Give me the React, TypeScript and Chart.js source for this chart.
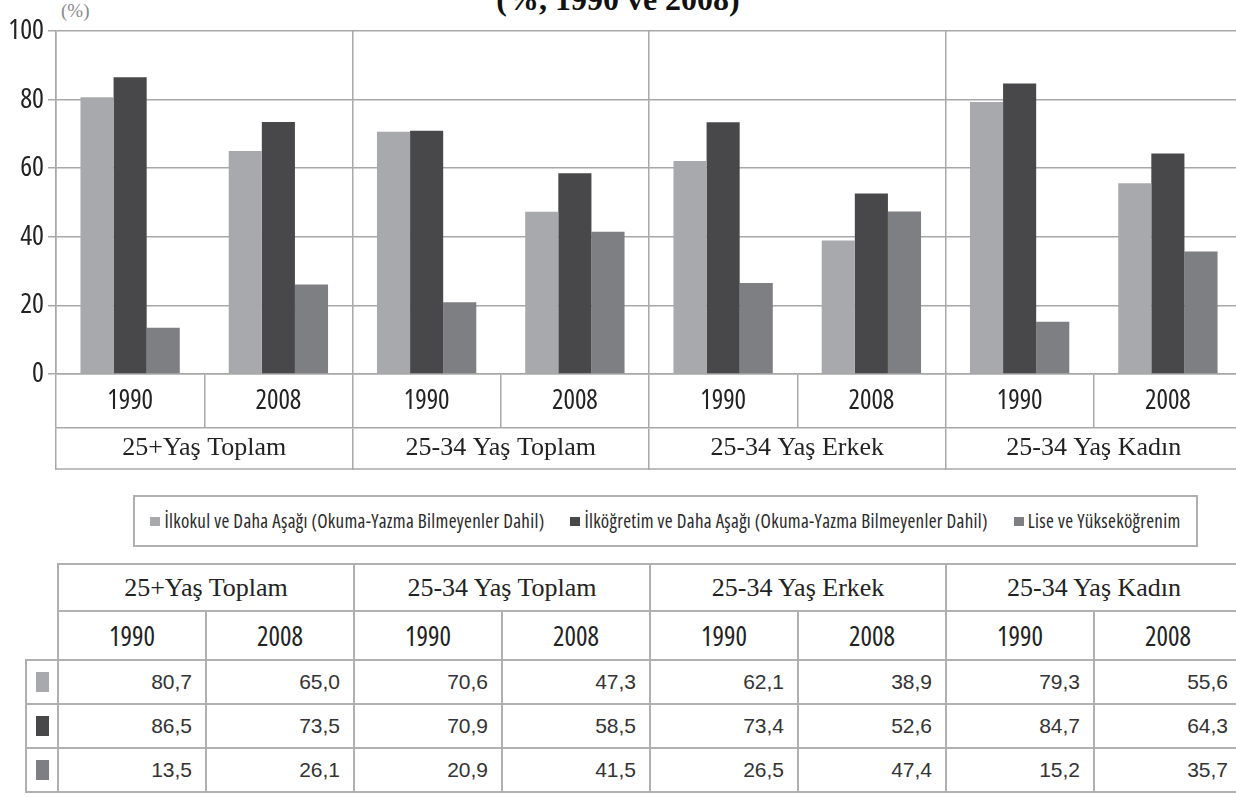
import React, { useEffect, useRef } from "react";
import { Chart, registerables } from "chart.js";

Chart.register(...registerables);

const years = ["1990", "2008", "1990", "2008", "1990", "2008", "1990", "2008"];
const groups = ["25+Yaş Toplam", "25-34 Yaş Toplam", "25-34 Yaş Erkek", "25-34 Yaş Kadın"];
const seriesNames = [
  "İlkokul ve Daha Aşağı (Okuma-Yazma Bilmeyenler Dahil)",
  "İlköğretim ve Daha Aşağı (Okuma-Yazma Bilmeyenler Dahil)",
  "Lise ve Yükseköğrenim",
];
const ilkokul = [80.7, 65.0, 70.6, 47.3, 62.1, 38.9, 79.3, 55.6];
const ilkogretim = [86.5, 73.5, 70.9, 58.5, 73.4, 52.6, 84.7, 64.3];
const lise = [13.5, 26.1, 20.9, 41.5, 26.5, 47.4, 15.2, 35.7];
const seriesValues = [ilkokul, ilkogretim, lise];
const seriesColors = ["#a8a9ac", "#48484b", "#7e7f82"];
const yTicks = [0, 20, 40, 60, 80, 100];

const COND = '"Open Sans", "DejaVu Sans Condensed", sans-serif';
const SERIF = '"Liberation Serif", "Times New Roman", serif';
const SANS = '"Liberation Sans", Arial, sans-serif';
const LINE = "#a8a8a8";
const TXT = "#222";

const fmt = (v: number) => v.toFixed(1).replace(".", ",");

const boxBottomPlugin = {
  id: "boxBottom",
  afterDraw(chart: any) {
    const s = chart.scales.x2;
    const ctx = chart.ctx;
    ctx.save();
    ctx.strokeStyle = LINE;
    ctx.lineWidth = 1.5;
    ctx.beginPath();
    ctx.moveTo(s.left, s.bottom - 1);
    ctx.lineTo(s.right, s.bottom - 1);
    ctx.stroke();
    ctx.restore();
  },
};

function BarChart() {
  const ref = useRef<HTMLCanvasElement>(null);
  useEffect(() => {
    if (!ref.current) return;
    const chart = new Chart(ref.current, {
      type: "bar",
      data: {
        labels: years,
        datasets: seriesNames.map((n, i) => ({
          label: n,
          data: seriesValues[i],
          backgroundColor: seriesColors[i],
          borderWidth: 0,
          categoryPercentage: 0.67,
          barPercentage: 1.0,
          xAxisID: "x",
        })),
      },
      options: {
        animation: false,
        responsive: false,
        maintainAspectRatio: false,
        layout: { padding: { top: 31, bottom: 2, left: 0, right: 0 } },
        plugins: { legend: { display: false }, tooltip: { enabled: false }, title: { display: false } },
        scales: {
          y: {
            min: 0,
            max: 100,
            afterBuildTicks: (s: any) => {
              s.ticks = yTicks.map((v) => ({ value: v }));
            },
            afterFit: (s: any) => {
              s.width = 56;
            },
            ticks: { font: { family: COND, size: 28, weight: "condensed" }, color: TXT, padding: 4 },
            grid: { color: LINE, lineWidth: 1.5, tickLength: 8, drawTicks: true },
            border: { display: true, color: LINE, width: 1.5 },
          },
          x: {
            type: "category",
            position: "bottom",
            offset: true,
            afterFit: (s: any) => {
              s.height = 54;
            },
            ticks: {
              font: { family: COND, size: 27, weight: "condensed" },
              color: TXT,
              padding: -43,
              maxRotation: 0,
              autoSkip: false,
            },
            grid: { offset: true, drawOnChartArea: false, tickLength: 54, color: LINE, lineWidth: 1.5 },
            border: { display: true, color: LINE, width: 1.5 },
          },
          x2: {
            type: "category",
            position: "bottom",
            labels: groups,
            offset: true,
            afterFit: (s: any) => {
              s.height = 42;
            },
            ticks: { font: { family: SERIF, size: 26 }, color: TXT, padding: -37, maxRotation: 0, autoSkip: false },
            grid: { offset: true, drawOnChartArea: true, tickLength: 42, color: LINE, lineWidth: 1.5 },
            border: { display: true, color: LINE, width: 1.5 },
          },
        },
      },
      plugins: [boxBottomPlugin],
    } as any);
    return () => chart.destroy();
  }, []);
  return (
    <canvas
      ref={ref}
      width={1242}
      height={472}
      style={{ position: "absolute", left: 0, top: 0, width: 1242, height: 472 }}
    />
  );
}

const cellBorder = "2px solid #b0b0b0";

export default function App() {
  return (
    <div
      style={{
        position: "absolute",
        left: 0,
        top: 0,
        width: 1236,
        height: 797,
        overflow: "hidden",
        background: "#fff",
        color: TXT,
      }}
    >
      <div
        style={{
          position: "absolute",
          left: 418,
          width: 400,
          top: -17,
          textAlign: "center",
          font: `bold 32px/32px ${SERIF}`,
          color: "#111",
          whiteSpace: "nowrap",
        }}
      >
        (%, 1990 ve 2008)
      </div>
      <div
        style={{
          position: "absolute",
          left: 61,
          top: 0,
          font: `19px/22px ${SERIF}`,
          color: "#8a8a8a",
        }}
      >
        (%)
      </div>
      <BarChart />
      <div
        style={{
          position: "absolute",
          left: 133,
          top: 495,
          width: 1061,
          height: 48,
          border: "2px solid #b0b0b0",
          display: "flex",
          alignItems: "center",
          justifyContent: "center",
          gap: 26,
          font: `19px ${COND}`,
          fontStretch: "condensed",
          letterSpacing: 0.3,
          color: "#2a2a2a",
          whiteSpace: "nowrap",
        }}
      >
        {seriesNames.map((n, i) => (
          <span key={n} style={{ display: "flex", alignItems: "center" }}>
            <span
              style={{ display: "inline-block", width: 10, height: 9, background: seriesColors[i], marginRight: 4 }}
            />
            {n}
          </span>
        ))}
      </div>
      <table
        style={{
          position: "absolute",
          left: 25,
          top: 563,
          borderCollapse: "collapse",
          tableLayout: "fixed",
          width: 1216,
        }}
      >
        <colgroup>
          <col style={{ width: 32 }} />
          {years.map((_, i) => (
            <col key={i} style={{ width: 148 }} />
          ))}
        </colgroup>
        <tbody>
          <tr style={{ height: 47 }}>
            <td style={{ border: "none" }} />
            {groups.map((g) => (
              <td
                key={g}
                colSpan={2}
                style={{ border: cellBorder, textAlign: "center", font: `26px ${SERIF}`, padding: 0 }}
              >
                {g}
              </td>
            ))}
          </tr>
          <tr style={{ height: 49 }}>
            <td style={{ border: "none" }} />
            {years.map((y, i) => (
              <td
                key={i}
                style={{
                  border: cellBorder,
                  textAlign: "center",
                  font: `27px ${COND}`,
                  fontStretch: "condensed",
                  padding: 0,
                }}
              >
                {y}
              </td>
            ))}
          </tr>
          {seriesValues.map((vals, r) => (
            <tr key={r} style={{ height: 44 }}>
              <td style={{ border: cellBorder, padding: 0, textAlign: "center" }}>
                <span
                  style={{
                    display: "inline-block",
                    width: 13,
                    height: 20,
                    background: seriesColors[r],
                    verticalAlign: "middle",
                  }}
                />
              </td>
              {vals.map((v, i) => (
                <td
                  key={i}
                  style={{
                    border: cellBorder,
                    textAlign: "right",
                    paddingRight: 13,
                    paddingTop: 0,
                    paddingBottom: 0,
                    font: `21px ${SANS}`,
                    color: "#333",
                  }}
                >
                  {fmt(v)}
                </td>
              ))}
            </tr>
          ))}
        </tbody>
      </table>
    </div>
  );
}
